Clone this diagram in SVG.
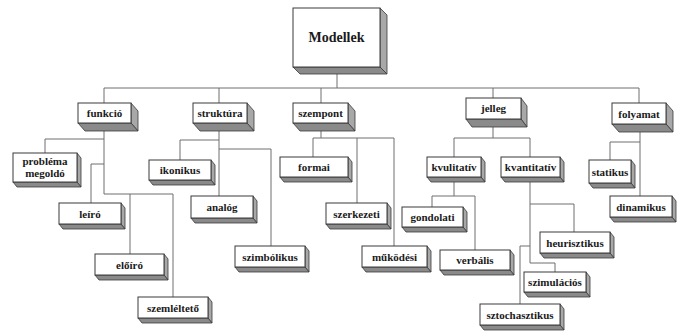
<svg xmlns="http://www.w3.org/2000/svg" width="683" height="331" viewBox="0 0 683 331">
<style>
.c{fill:none;stroke:#6e6e6e;stroke-width:1}
.f{fill:#fff;stroke:#3a3a3a;stroke-width:1}
.r{fill:#a8a8a8;stroke:#3a3a3a;stroke-width:0.8}
.b{fill:#8a8a8a;stroke:#3a3a3a;stroke-width:0.8}
text{font-family:'Liberation Serif', 'Times New Roman', 'DejaVu Serif', serif;font-weight:bold;font-size:11px;fill:#1a1a1a;text-anchor:middle}
.big{font-size:14px}
</style>
<rect width="683" height="331" fill="#fff"/>
<g id="connectors">
<path class="c" d="M337,74V88M104,88H639M104,88V103M219,88V103M321,88V103M493,88V98M639,88V103"/>
<path class="c" d="M104,131V194H173V297M130,194V254M104,139H45V153M104,164H91V203"/>
<path class="c" d="M219,131V196M219,140H180V160M219,149H271V246"/>
<path class="c" d="M321,131V138M313,138H394V246M313,138V157M357,138V203"/>
<path class="c" d="M493,126V138M454,138H530M454,138V157M530,138V157"/>
<path class="c" d="M454,177V196M432,196H475M432,196V207M475,196V250"/>
<path class="c" d="M530,177V263H555V272M530,204H574V232M530,246H520V304"/>
<path class="c" d="M640,131V196M640,142H610V160"/>
</g>
<g id="modellek">
<polygon class="r" points="380,8 387,15 387,74 380,67"/><polygon class="b" points="293,67 380,67 387,74 300,74"/>
<rect class="f" x="293" y="8" width="87" height="59"/><text class="big" x="336.5" y="42">Modellek</text>
</g>
<g id="funkcio">
<polygon class="r" points="131,103 138,111 138,131 131,123"/><polygon class="b" points="78,123 131,123 138,131 85,131"/>
<rect class="f" x="78" y="103" width="53" height="20"/><text x="104.5" y="117">funkció</text>
</g>
<g id="struktura">
<polygon class="r" points="247,103 254,111 254,131 247,123"/><polygon class="b" points="193,123 247,123 254,131 200,131"/>
<rect class="f" x="193" y="103" width="54" height="20"/><text x="220" y="117">struktúra</text>
</g>
<g id="szempont">
<polygon class="r" points="348,103 355,111 355,131 348,123"/><polygon class="b" points="293,123 348,123 355,131 300,131"/>
<rect class="f" x="293" y="103" width="55" height="20"/><text x="320.5" y="117">szempont</text>
</g>
<g id="jelleg">
<polygon class="r" points="521,98 527,106 527,127 521,119"/><polygon class="b" points="466,119 521,119 527,127 472,127"/>
<rect class="f" x="466" y="98" width="55" height="21"/><text x="493.5" y="112">jelleg</text>
</g>
<g id="folyamat">
<polygon class="r" points="666,103 673,111 673,132 666,124"/><polygon class="b" points="612,124 666,124 673,132 619,132"/>
<rect class="f" x="612" y="103" width="54" height="21"/><text x="639" y="117.5">folyamat</text>
</g>
<g id="problema">
<polygon class="r" points="77,153 81,158 81,187 77,182"/><polygon class="b" points="13,182 77,182 81,187 17,187"/>
<rect class="f" x="13" y="153" width="64" height="29"/><text x="45" y="165">probléma</text><text x="45" y="177">megoldó</text>
</g>
<g id="leiro">
<polygon class="r" points="121,203 125,208 125,229 121,224"/><polygon class="b" points="59,224 121,224 125,229 63,229"/>
<rect class="f" x="59" y="203" width="62" height="21"/><text x="90" y="217.5">leíró</text>
</g>
<g id="eloiro">
<polygon class="r" points="164,254 168,259 168,280 164,275"/><polygon class="b" points="95,275 164,275 168,280 99,280"/>
<rect class="f" x="95" y="254" width="69" height="21"/><text x="129.5" y="268.5">előíró</text>
</g>
<g id="szemlelteto">
<polygon class="r" points="208,297 212,302 212,323 208,318"/><polygon class="b" points="138,318 208,318 212,323 142,323"/>
<rect class="f" x="138" y="297" width="70" height="21"/><text x="173" y="311.5">szemléltető</text>
</g>
<g id="ikonikus">
<polygon class="r" points="211,160 215,165 215,185 211,180"/><polygon class="b" points="149,180 211,180 215,185 153,185"/>
<rect class="f" x="149" y="160" width="62" height="20"/><text x="180" y="174">ikonikus</text>
</g>
<g id="analog">
<polygon class="r" points="253,196 257,201 257,223 253,218"/><polygon class="b" points="191,218 253,218 257,223 195,223"/>
<rect class="f" x="191" y="196" width="62" height="22"/><text x="222" y="211">analóg</text>
</g>
<g id="szimbolikus">
<polygon class="r" points="305,246 309,251 309,272 305,267"/><polygon class="b" points="235,267 305,267 309,272 239,272"/>
<rect class="f" x="235" y="246" width="70" height="21"/><text x="270" y="260.5">szimbólikus</text>
</g>
<g id="formai">
<polygon class="r" points="348,157 352,162 352,182 348,177"/><polygon class="b" points="280,177 348,177 352,182 284,182"/>
<rect class="f" x="280" y="157" width="68" height="20"/><text x="314" y="171">formai</text>
</g>
<g id="szerkezeti">
<polygon class="r" points="387,203 391,208 391,229 387,224"/><polygon class="b" points="326,224 387,224 391,229 330,229"/>
<rect class="f" x="326" y="203" width="61" height="21"/><text x="356.5" y="217.5">szerkezeti</text>
</g>
<g id="mukodesi">
<polygon class="r" points="427,246 431,251 431,272 427,267"/><polygon class="b" points="362,267 427,267 431,272 366,272"/>
<rect class="f" x="362" y="246" width="65" height="21"/><text x="394.5" y="260.5">működési</text>
</g>
<g id="kvulitativ">
<polygon class="r" points="481,157 485,162 485,182 481,177"/><polygon class="b" points="427,177 481,177 485,182 431,182"/>
<rect class="f" x="427" y="157" width="54" height="20"/><text x="454" y="171">kvulitatív</text>
</g>
<g id="kvantitativ">
<polygon class="r" points="560,157 564,162 564,182 560,177"/><polygon class="b" points="501,177 560,177 564,182 505,182"/>
<rect class="f" x="501" y="157" width="59" height="20"/><text x="530.5" y="171">kvantitatív</text>
</g>
<g id="gondolati">
<polygon class="r" points="463,207 467,212 467,232 463,227"/><polygon class="b" points="402,227 463,227 467,232 406,232"/>
<rect class="f" x="402" y="207" width="61" height="20"/><text x="432.5" y="221">gondolati</text>
</g>
<g id="verbalis">
<polygon class="r" points="510,250 514,255 514,275 510,270"/><polygon class="b" points="440,270 510,270 514,275 444,275"/>
<rect class="f" x="440" y="250" width="70" height="20"/><text x="475" y="264">verbális</text>
</g>
<g id="heurisztikus">
<polygon class="r" points="610,232 614,237 614,258 610,253"/><polygon class="b" points="540,253 610,253 614,258 544,258"/>
<rect class="f" x="540" y="232" width="70" height="21"/><text x="575" y="246.5">heurisztikus</text>
</g>
<g id="szimulacios">
<polygon class="r" points="586,272 590,277 590,297 586,292"/><polygon class="b" points="524,292 586,292 590,297 528,297"/>
<rect class="f" x="524" y="272" width="62" height="20"/><text x="555" y="286">szimulációs</text>
</g>
<g id="sztochasztikus">
<polygon class="r" points="560,304 564,309 564,330 560,325"/><polygon class="b" points="480,325 560,325 564,330 484,330"/>
<rect class="f" x="480" y="304" width="80" height="21"/><text x="520" y="318.5">sztochasztikus</text>
</g>
<g id="statikus">
<polygon class="r" points="631,160 635,165 635,188 631,183"/><polygon class="b" points="589,183 631,183 635,188 593,188"/>
<rect class="f" x="589" y="160" width="42" height="23"/><text x="610" y="175.5">statikus</text>
</g>
<g id="dinamikus">
<polygon class="r" points="672,196 676,201 676,222 672,217"/><polygon class="b" points="610,217 672,217 676,222 614,222"/>
<rect class="f" x="610" y="196" width="62" height="21"/><text x="641" y="210.5">dinamikus</text>
</g>
</svg>
